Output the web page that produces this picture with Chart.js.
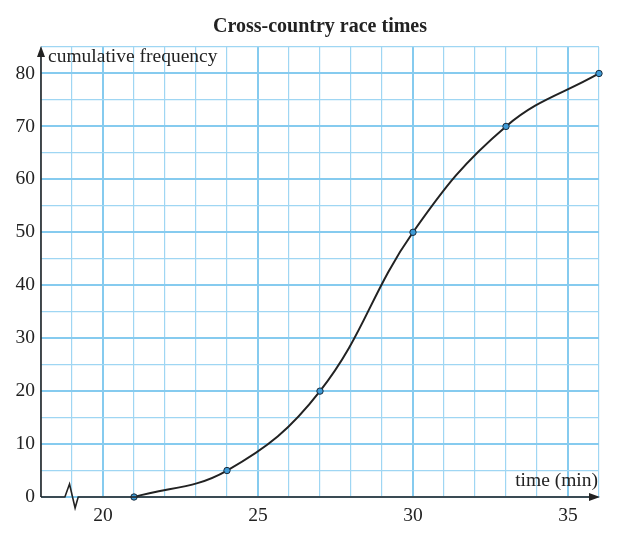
<!DOCTYPE html>
<html>
<head>
<meta charset="utf-8">
<script src="https://cdn.jsdelivr.net/npm/chart.js@4"></script>
<style>
  html, body { margin: 0; padding: 0; background: #fff; }
  #wrap { width: 634px; height: 540px; position: relative; }
</style>
</head>
<body>
<div id="wrap"><canvas id="raceChart"></canvas></div>
<script>
// Cumulative frequency data
const times = [21, 24, 27, 30, 33, 36];
const cumFreq = [0, 5, 20, 50, 70, 80];
const xTickLabels = [20, 25, 30, 35];
const yTickLabels = [0, 10, 20, 30, 40, 50, 60, 70, 80];

const serif = '"Liberation Serif", "DejaVu Serif", serif';
const gridBlue = '#9fd6f3';
const gridBlueMajor = '#86cbef';
const ink = '#222';

// axes, arrows, axis break, title and axis captions
const decorPlugin = {
  id: 'decor',
  afterDraw(chart) {
    const { ctx, chartArea: a, scales: { x, y } } = chart;
    const y0 = y.getPixelForValue(0);
    const x0 = a.left;
    ctx.save();
    ctx.strokeStyle = ink;
    ctx.fillStyle = ink;
    ctx.lineWidth = 1.6;

    // y axis with arrow
    ctx.beginPath();
    ctx.moveTo(x0, y0);
    ctx.lineTo(x0, a.top + 6);
    ctx.stroke();
    ctx.beginPath();
    ctx.moveTo(x0, a.top - 1);
    ctx.lineTo(x0 - 4, a.top + 10);
    ctx.lineTo(x0 + 4, a.top + 10);
    ctx.closePath();
    ctx.fill();

    // x axis with break and arrow
    const b1 = x.getPixelForValue(18.77);
    const b2 = x.getPixelForValue(18.92);
    const b3 = x.getPixelForValue(19.1);
    const b4 = x.getPixelForValue(19.2);
    ctx.beginPath();
    ctx.moveTo(x0, y0);
    ctx.lineTo(b1, y0);
    ctx.lineTo(b2, y0 - 13);
    ctx.lineTo(b3, y0 + 11);
    ctx.lineTo(b4, y0);
    ctx.lineTo(a.right - 6, y0);
    ctx.stroke();
    ctx.beginPath();
    ctx.moveTo(a.right + 1, y0);
    ctx.lineTo(a.right - 10, y0 - 4);
    ctx.lineTo(a.right - 10, y0 + 4);
    ctx.closePath();
    ctx.fill();

    // captions
    ctx.font = '19.5px ' + serif;
    ctx.textBaseline = 'middle';
    ctx.textAlign = 'left';
    ctx.fillText('cumulative frequency', x0 + 7, a.top + 10);
    ctx.textAlign = 'right';
    ctx.fillText('time (min)', a.right - 1, y0 - 16);

    ctx.font = 'bold 20px ' + serif;
    ctx.textAlign = 'center';
    ctx.fillText('Cross-country race times', 320, 27);
    ctx.restore();
  }
};

new Chart(document.getElementById('raceChart'), {
  type: 'line',
  data: {
    datasets: [{
      label: 'Cumulative frequency',
      data: times.map((t, i) => ({ x: t, y: cumFreq[i] })),
      borderColor: ink,
      borderWidth: 2,
      tension: 0.4,
      pointRadius: 3.2,
      pointBackgroundColor: '#3d9ad6',
      pointBorderColor: '#1b2b3a',
      pointBorderWidth: 1,
      clip: false
    }]
  },
  options: {
    responsive: true,
    maintainAspectRatio: false,
    animation: false,
    layout: { padding: { top: 47, right: 35, left: 0, bottom: 0 } },
    plugins: {
      legend: { display: false },
      tooltip: { enabled: false }
    },
    scales: {
      x: {
        type: 'linear',
        min: 18,
        max: 36,
        afterFit: s => { s.height = 43; },
        afterBuildTicks: s => {
          s.ticks = [];
          for (let v = 18; v <= 36; v++) s.ticks.push({ value: v });
        },
        border: { display: false },
        grid: {
          drawTicks: false,
          color: c => (c.tick.value % 5 === 0 ? gridBlueMajor : gridBlue),
          lineWidth: c => (c.tick.value % 5 === 0 ? 2 : 1.2)
        },
        ticks: {
          padding: 7,
          color: ink,
          font: { family: serif, size: 19.5 },
          maxRotation: 0,
          autoSkip: false,
          callback: v => (xTickLabels.includes(v) ? String(v) : '')
        }
      },
      y: {
        min: 0,
        max: 85,
        afterFit: s => { s.width = 41; },
        afterBuildTicks: s => {
          s.ticks = [];
          for (let v = 0; v <= 85; v += 5) s.ticks.push({ value: v });
        },
        border: { display: false },
        grid: {
          drawTicks: false,
          color: c => (c.tick.value % 10 === 0 ? gridBlueMajor : gridBlue),
          lineWidth: c => (c.tick.value % 10 === 0 ? 2 : 1.2)
        },
        ticks: {
          padding: 6,
          color: ink,
          font: { family: serif, size: 19.5 },
          autoSkip: false,
          callback: v => (yTickLabels.includes(v) ? String(v) : '')
        }
      }
    }
  },
  plugins: [decorPlugin]
});
</script>
</body>
</html>
